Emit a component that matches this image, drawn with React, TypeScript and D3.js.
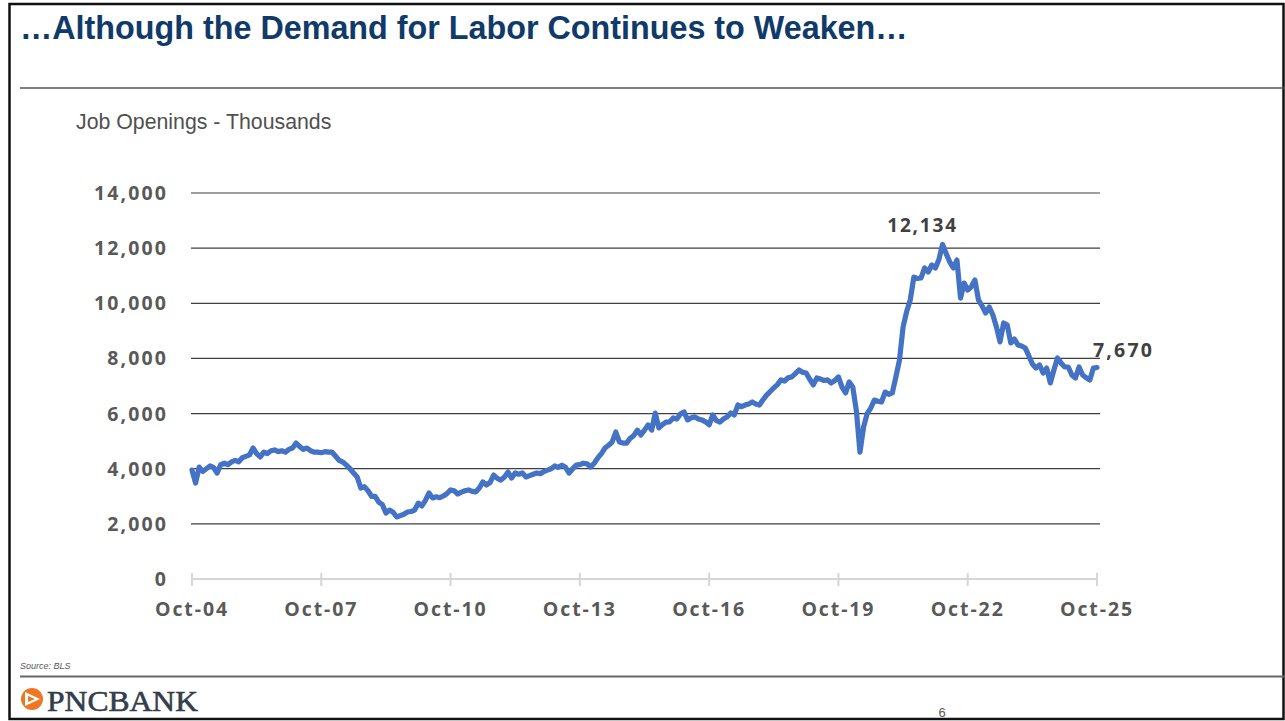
import React from "react";
import * as d3 from "d3";

// Monthly job openings (thousands), Oct-2004 .. Oct-2025
const y2004 = [3950, 3480, 4060];
const y2005 = [3900, 4000, 4100, 4050, 3845, 4150, 4200, 4150, 4250, 4300, 4250, 4400];
const y2006 = [4450, 4500, 4750, 4550, 4425, 4600, 4550, 4650, 4680, 4620, 4650, 4600];
const y2007 = [4700, 4750, 4930, 4800, 4700, 4750, 4650, 4600, 4600, 4580, 4620, 4600];
const y2008 = [4600, 4450, 4300, 4240, 4130, 4000, 3845, 3700, 3300, 3350, 3200, 3000];
const y2009 = [3000, 2790, 2700, 2390, 2500, 2420, 2250, 2300, 2350, 2430, 2450, 2500];
const y2010 = [2750, 2650, 2850, 3120, 2940, 2980, 2950, 3010, 3100, 3230, 3200, 3080];
const y2011 = [3150, 3200, 3230, 3180, 3160, 3300, 3520, 3410, 3500, 3770, 3650, 3590];
const y2012 = [3700, 3880, 3660, 3845, 3800, 3850, 3700, 3750, 3800, 3845, 3820, 3900];
const y2013 = [3950, 4000, 4100, 4050, 4130, 4050, 3845, 4000, 4130, 4150, 4200, 4180];
const y2014 = [4060, 4200, 4390, 4550, 4750, 4850, 4970, 5330, 4970, 4930, 4930, 5100];
const y2015 = [5200, 5400, 5220, 5400, 5590, 5400, 6020, 5480, 5600, 5690, 5700, 5840];
const y2016 = [5800, 5985, 6060, 5770, 5850, 5880, 5800, 5770, 5700, 5590, 5950, 5750];
const y2017 = [5690, 5800, 5880, 6020, 5950, 6310, 6250, 6310, 6350, 6420, 6350, 6310];
const y2018 = [6500, 6670, 6800, 6930, 7050, 7220, 7180, 7300, 7330, 7450, 7580, 7500];
const y2019 = [7470, 7250, 7040, 7290, 7250, 7200, 7220, 7110, 7200, 7330, 6960, 6750];
const y2020 = [7150, 6960, 6100, 4600, 5510, 6000, 6200, 6490, 6450, 6420, 6780, 6700];
const y2021 = [6750, 7330, 7940, 9140, 9700, 10120, 10950, 10900, 10920, 11280, 11135, 11390];
const y2022 = [11280, 11600, 12134, 11800, 11500, 11280, 11570, 10190, 10735, 10480, 10600, 10845];
const y2023 = [10120, 9900, 9650, 9865, 9575, 9140, 8600, 9285, 9210, 8560, 8700, 8490];
const y2024 = [8450, 8380, 8100, 7800, 7650, 7760, 7470, 7650, 7110, 7580, 8015, 7830];
const y2025 = [7690, 7690, 7400, 7290, 7690, 7400, 7300, 7220, 7650, 7670];

const xTickLabels = ["Oct-04", "Oct-07", "Oct-10", "Oct-13", "Oct-16", "Oct-19", "Oct-22", "Oct-25"];
const yTicks = [0, 2000, 4000, 6000, 8000, 10000, 12000, 14000];
const peakLabel = "12,134";
const lastLabel = "7,670";

const values: number[] = [
  ...y2004, ...y2005, ...y2006, ...y2007, ...y2008, ...y2009, ...y2010, ...y2011,
  ...y2012, ...y2013, ...y2014, ...y2015, ...y2016, ...y2017, ...y2018, ...y2019,
  ...y2020, ...y2021, ...y2022, ...y2023, ...y2024, ...y2025,
];

export default function App() {
  const W = 1285, H = 721;
  const x = d3.scaleLinear().domain([0, values.length - 1]).range([192, 1097]);
  const y = d3.scaleLinear().domain([0, 14000]).range([579, 193]);
  const line = d3.line<number>().x((_, i) => x(i)).y((d) => y(d));
  const peakIdx = values.indexOf(d3.max(values) as number);
  const lastIdx = values.length - 1;
  const tickFont = "'Open Sans', 'DejaVu Sans', sans-serif";
  const fmt = d3.format(",");

  return (
    <div style={{ position: "absolute", left: 0, top: 0, width: W, height: H, background: "#fff" }}>
      <svg width={W} height={H} style={{ display: "block" }}>
        <rect x={0} y={0} width={W} height={H} fill="#fff" />
        {/* frame */}
        <rect x={9.5} y={4} width={1274} height={715} fill="none" stroke="#111" strokeWidth={2.5} />
        {/* title */}
        <text x={20} y={39} fontFamily="'Liberation Sans', Arial, sans-serif" fontWeight={700} fontSize={32.3} fill="#0f3a6a">
          …Although the Demand for Labor Continues to Weaken…
        </text>
        <line x1={20} x2={1285} y1={88} y2={88} stroke="#555" strokeWidth={1.5} />
        <text x={76} y={129} fontFamily="'Liberation Sans', Arial, sans-serif" fontSize={21.3} fill="#505050">
          Job Openings - Thousands
        </text>

        {/* gridlines */}
        {yTicks.filter((t) => t > 0).map((t) => (
          <line key={t} x1={191} x2={1100} y1={y(t)} y2={y(t)} stroke="#3f3f3f" strokeWidth={1.2} />
        ))}
        {/* x axis */}
        <line x1={191} x2={1098} y1={y(0)} y2={y(0)} stroke="#d6d6d6" strokeWidth={2} />
        {xTickLabels.map((lab, i) => {
          const xi = x(i * 36);
          return (
            <g key={lab}>
              <line x1={xi} x2={xi} y1={y(0) - 6} y2={y(0) + 7} stroke="#d6d6d6" strokeWidth={2} />
              <text x={xi} y={616} textAnchor="middle" fontFamily={tickFont} fontWeight={700} fontSize={19.5}
                letterSpacing={1.9} fill="#595959">{lab}</text>
            </g>
          );
        })}
        {/* y labels */}
        {yTicks.map((t) => (
          <text key={t} x={168} y={y(t) + 7} textAnchor="end" fontFamily={tickFont} fontWeight={700} fontSize={19.5}
            letterSpacing={2.1} fill="#595959">{fmt(t)}</text>
        ))}

        {/* series */}
        <path d={line(values) || ""} fill="none" stroke="#4472c4" strokeWidth={5.2} strokeLinejoin="round" strokeLinecap="round" />

        {/* data labels */}
        <text x={x(peakIdx) - 20} y={232} textAnchor="middle" fontFamily={tickFont} fontWeight={700} fontSize={19}
          letterSpacing={1.8} fill="#404040">{peakLabel}</text>
        <text x={x(lastIdx) - 4} y={357} fontFamily={tickFont} fontWeight={700} fontSize={19.5}
          letterSpacing={2.2} fill="#404040">{lastLabel}</text>

        {/* footer */}
        <text x={20} y={669} fontFamily="'Liberation Sans', Arial, sans-serif" fontStyle="italic" fontSize={9} fill="#595959">
          Source: BLS
        </text>
        <line x1={20} x2={1285} y1={676.5} y2={676.5} stroke="#666" strokeWidth={2} />
        <g>
          <circle cx={32} cy={699} r={11} fill="#ef7622" />
          <path d="M25,692 L40,699 L25,706 Z" fill="#fff" />
          <path d="M28,696 L35,699 L28,702 Z" fill="#ef7622" />
        </g>
        <text x={47} y={711} fontFamily="'Liberation Serif', 'Times New Roman', serif" fontSize={30} fill="#333d4b"
          stroke="#333d4b" strokeWidth={0.6} textLength={151} lengthAdjust="spacingAndGlyphs">PNCBANK</text>
        <text x={942} y={717} textAnchor="middle" fontFamily="'Liberation Sans', Arial, sans-serif" fontSize={13} fill="#595959">6</text>
      </svg>
    </div>
  );
}
